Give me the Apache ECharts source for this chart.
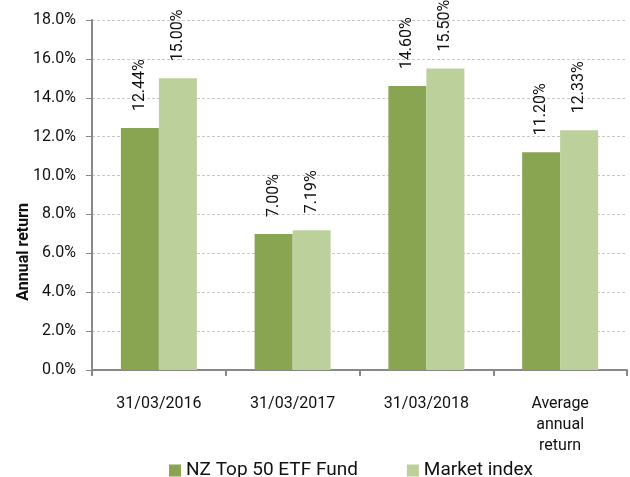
<!DOCTYPE html>
<html><head><meta charset="utf-8">
<script src="https://cdn.jsdelivr.net/npm/echarts@6/dist/echarts.min.js"></script>
<style>html,body{margin:0;padding:0;background:#fff}#c{width:630px;height:477px}</style>
</head><body><div id="c"></div>
<script>
const categories = ['31/03/2016', '31/03/2017', '31/03/2018', 'Average\nannual\nreturn'];
const fundValues = [12.44, 7.00, 14.60, 11.20];
const indexValues = [15.00, 7.19, 15.50, 12.33];
const seriesNames = ['NZ Top 50 ETF Fund', 'Market index'];
const yAxisTitle = 'Annual return';

const chart = echarts.init(document.getElementById('c'), null, {renderer: 'canvas'});
const FONT = 'Roboto';
const labelCfg = {
  show: true, position: 'top', rotate: 90, align: 'left', verticalAlign: 'middle',
  distance: 17, fontFamily: FONT, fontSize: 16, color: '#111',
  formatter: p => p.value.toFixed(2) + '%'
};
chart.setOption({
  animation: false,
  backgroundColor: '#fff',
  grid: {left: 92, right: 3, top: 20, bottom: 107, containLabel: false},
  legend: {
    top: 461, left: 169, itemWidth: 12, itemHeight: 12, itemGap: 49, padding: 0,
    icon: 'rect',
    textStyle: {fontFamily: FONT, fontSize: 19, color: '#111'},
    data: seriesNames
  },
  xAxis: {
    type: 'category', data: categories,
    axisLine: {lineStyle: {color: '#888', width: 2}},
    axisTick: {show: true, length: 6, lineStyle: {color: '#888', width: 2}},
    axisLabel: {fontFamily: FONT, fontSize: 16, color: '#111', margin: 23, lineHeight: 21, interval: 0}
  },
  yAxis: {
    type: 'value', min: 0, max: 18, interval: 2,
    axisLine: {show: true, lineStyle: {color: '#888', width: 2}},
    axisTick: {show: true, length: 6, lineStyle: {color: '#888', width: 1}},
    axisLabel: {fontFamily: FONT, fontSize: 16, color: '#111', margin: 16, formatter: v => v.toFixed(1) + '%'},
    splitLine: {show: true, lineStyle: {color: '#c8c8c8', type: [3, 2], width: 1}}
  },
  graphic: [{
    type: 'text', left: 16, top: 203, rotation: Math.PI / 2,
    style: {text: yAxisTitle, font: 'bold 16px Roboto', fill: '#111'}
  }],
  series: [
    {name: seriesNames[0], type: 'bar', data: fundValues, barWidth: 38, barGap: '0%',
     itemStyle: {color: '#8aa552'}, label: labelCfg},
    {name: seriesNames[1], type: 'bar', data: indexValues, barWidth: 38, barGap: '0%',
     itemStyle: {color: '#bbd09a'}, label: labelCfg}
  ]
});
</script></body></html>
